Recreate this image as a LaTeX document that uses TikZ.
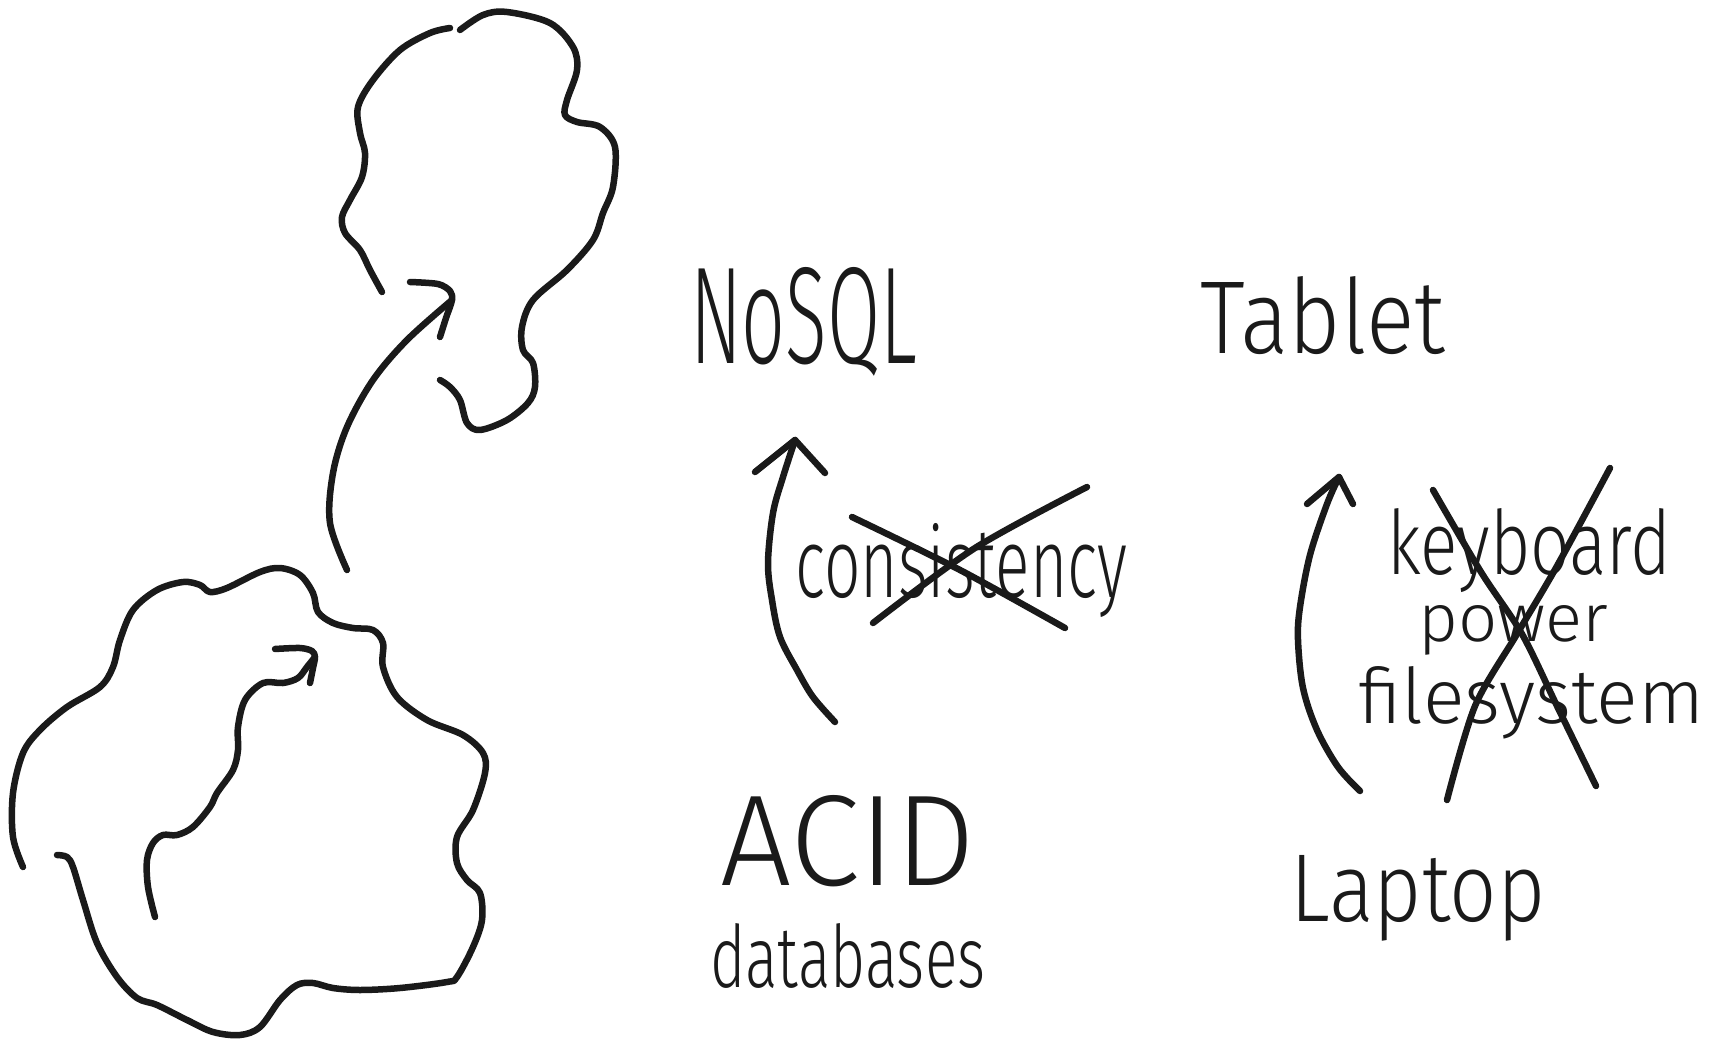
\documentclass[tikz,border=0pt]{standalone}
\usepackage{fontspec}
\usepackage{graphicx}
\newfontfamily\hand{Fira Sans Light}
\definecolor{inkc}{HTML}{1A1A1A}
% stretch a word to a given width and height (in pt)
\newcommand\fitword[3]{\resizebox{#1pt}{#2pt}{#3}}
\tikzset{
  ink/.style={line width=6.5pt, line cap=round, line join=round, draw=inkc},
  word/.style={inner sep=0pt, anchor=base west, text=inkc, font=\hand},
}
\begin{document}
\begin{tikzpicture}[x=1pt, y=-1pt]
\useasboundingbox[fill=white] (0,0) rectangle (1717,1041);

% ---- words ----
\node[word] (nosql)  at (690,363)  {\fitword{227}{96}{NoSQL}};
\node[word] (tablet) at (1200,353) {\fitword{245}{77}{Tablet}};
\node[word] (consist) at (795,597) {\fitword{332}{74}{consistency}};
\node[word] (acid)   at (720,885)  {\fitword{255}{90}{ACID}};
\node[word] (dbs)    at (710,987)  {\fitword{275}{64}{databases}};
\node[word] (kbd)    at (1387,574) {\fitword{284}{66}{keyboard}};
\node[word] (power)  at (1418,641) {\fitword{190}{36}{power}};
\node[word] (fs)     at (1358,723) {\fitword{346}{57}{filesystem}};
\node[word] (laptop) at (1290,921) {\fitword{255}{66}{Laptop}};

% ---- upper cloud (two strokes with gaps) ----
\draw[ink] plot[smooth, tension=0.55] coordinates {
  (450,28) (430,33) (400,50) (373,80) (358,107) (360,133) (365,153)
  (362,177) (350,200) (342,217) (345,233) (360,250) (370,270) (382,292)};
\draw[ink] plot[smooth, tension=0.55] coordinates {
  (460,30) (483,15) (507,12) (550,23) (573,47) (577,70) (567,100)
  (565,115) (577,122) (600,127) (615,147) (613,187) (603,213) (593,240)
  (567,270) (533,300) (522,327) (523,350) (533,363) (535,387) (528,403)
  (507,420) (480,430) (467,423) (460,400) (450,387) (440,380)};

% ---- lower cloud ----
\draw[ink] plot[smooth, tension=0.55] coordinates {
  (23,867) (13,837) (13,793) (23,753) (40,730) (67,707) (100,687)
  (113,667) (120,640) (133,610) (157,590) (183,582) (200,585) (210,592)
  (227,588) (260,572) (280,568) (300,575) (313,593) (318,612) (333,623)
  (353,628) (373,630) (383,643) (383,667) (397,697) (427,720) (463,735)
  (483,753) (485,773) (473,810) (457,837) (457,863) (467,880) (480,893)
  (482,920) (473,947) (457,977) (447,982) (400,988) (360,990) (333,988)
  (313,983) (297,985) (280,1000) (260,1027) (240,1035) (213,1032)
  (187,1020) (157,1005) (137,998) (117,977) (97,943) (83,900) (73,867)
  (67,857) (57,855)};

% ---- arrow inside the lower cloud ----
\coordinate (inA) at (155,917);
\coordinate (inB) at (315,657);
\draw[ink] plot[smooth, tension=0.55] coordinates {
  (inA) (148,887) (147,860) (153,843) (163,835) (177,835) (193,827)
  (210,807) (217,793) (233,770) (238,750) (238,727) (245,700) (263,683)
  (283,683) (298,678) (307,667) (inB)};
\draw[ink] plot[smooth, tension=0.5] coordinates {
  (275,649) (300,648) (312,651) (inB) (313,668) (310,683)};

% ---- arrow from the lower cloud up to the upper cloud ----
\coordinate (upA) at (347,570);
\coordinate (upB) at (452,300);
\draw[ink] plot[smooth, tension=0.55] coordinates {
  (upA) (330,523) (333,473) (347,427) (373,380) (407,340) (upB)};
\draw[ink] plot[smooth, tension=0.5] coordinates {
  (410,282) (438,284) (450,291) (upB) (446,318) (440,337)};

% ---- ACID -> NoSQL ----
\coordinate (acidTop) at (835,722);
\coordinate (nosqlBot) at (795,440);
\draw[ink] plot[smooth, tension=0.55] coordinates {
  (acidTop) (813,697) (797,670) (780,637) (772,600) (768,563) (773,513)
  (783,477) (nosqlBot)};
\draw[ink] (755,472) -- (nosqlBot) -- (825,473);

% struck-out "consistency"
\draw[ink] plot[smooth, tension=0.5] coordinates {(852,517) (960,570) (1065,628)};
\draw[ink] plot[smooth, tension=0.5] coordinates {(873,623) (975,548) (1087,487)};

% ---- Laptop -> Tablet ----
\coordinate (lapTop) at (1360,791);
\coordinate (tabBot) at (1339,477);
\draw[ink] plot[smooth, tension=0.55] coordinates {
  (lapTop) (1338,767) (1317,730) (1303,688) (1298,640) (1300,607)
  (1310,555) (1327,504) (tabBot)};
\draw[ink] (1307,504) -- (tabBot) -- (1353,504);

% struck-out list
\draw[ink] plot[smooth, tension=0.5] coordinates {
  (1433,490) (1481,572) (1522,634) (1557,706) (1596,786)};
\draw[ink] plot[smooth, tension=0.5] coordinates {
  (1610,468) (1557,566) (1517,634) (1475,706) (1447,800)};
\end{tikzpicture}
\end{document}
